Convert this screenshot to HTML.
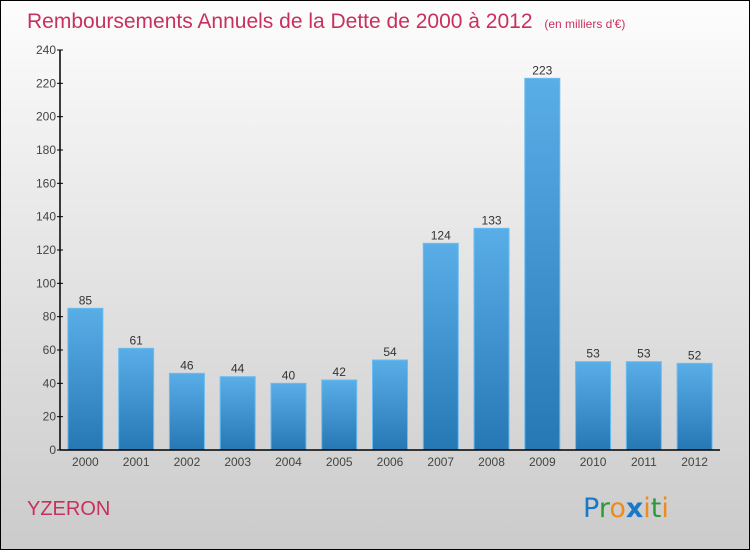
<!DOCTYPE html>
<html><head><meta charset="utf-8"><style>
html,body{margin:0;padding:0}
body{width:750px;height:550px;overflow:hidden;font-family:"Liberation Sans",sans-serif}
#wrap{position:relative;width:748px;height:548px;border:1px solid #000;background:linear-gradient(#fdfdfd,#e8e8e8 40%,#cbcbcb)}
</style></head><body>
<div id="wrap">
<svg id="chart" width="748" height="548" style="position:absolute;left:0;top:0">
<defs><linearGradient id="bg" x1="0" y1="0" x2="0" y2="1"><stop offset="0" stop-color="#5aaee8"/><stop offset="1" stop-color="#2678b4"/></linearGradient></defs>
<text x="26" y="27" font-size="21" fill="#c8305e">Remboursements Annuels de la Dette de 2000 à 2012 <tspan font-size="12" dx="6">(en milliers d'€)</tspan></text>
<g id="yaxis"></g>
<g id="bars"></g>
<g id="xaxis"></g>
<text x="26" y="514" font-size="20" fill="#c8305e">YZERON</text>
<text x="582" y="516" font-size="27" font-family="'DejaVu Sans',sans-serif"><tspan fill="#1a78c8">P</tspan><tspan fill="#2a9a3a">r</tspan><tspan fill="#f08a1a">o</tspan><tspan fill="#1a78c8" font-weight="bold">x</tspan><tspan fill="#f08a1a">i</tspan><tspan fill="#2a9a3a">t</tspan><tspan fill="#f08a1a">i</tspan></text>
</svg>
</div>
<script>
const categories=["2000","2001","2002","2003","2004","2005","2006","2007","2008","2009","2010","2011","2012"];
const values=[85,61,46,44,40,42,54,124,133,223,53,53,52];
const yTicks=[0,20,40,60,80,100,120,140,160,180,200,220,240];
const NS="http://www.w3.org/2000/svg";
const x0=59,x1=719,y0=449,y1=49,yMax=240;
const band=(x1-x0)/categories.length;
const xc=i=>x0+band*(i+0.5);
const ys=v=>y0-(v/yMax)*(y0-y1);
function mk(t,a,p){const e=document.createElementNS(NS,t);for(const k in a)e.setAttribute(k,a[k]);p.appendChild(e);return e;}
const ya=document.getElementById('yaxis'),xa=document.getElementById('xaxis'),bg=document.getElementById('bars');
mk('line',{x1:x0,y1:y1,x2:x0,y2:y0,stroke:'#000','stroke-width':1.5},ya);
yTicks.forEach(t=>{const y=ys(t);mk('line',{x1:x0-3,y1:y,x2:x0+3,y2:y,stroke:'#000'},ya);
const tx=mk('text',{x:x0-4,y:y+4,'font-size':12,'text-anchor':'end',fill:'#444'},ya);tx.textContent=t;

});
categories.forEach((c,i)=>{const cx=xc(i),v=values[i],w=35;
const r=mk('rect',{x:cx-w/2,y:ys(v),width:w,height:y0-ys(v),fill:'url(#bg)',stroke:'#6bbcf0','stroke-width':1},bg);


const vl=mk('text',{x:cx,y:ys(v)-4,'font-size':12,'text-anchor':'middle',fill:'#333'},bg);vl.textContent=v;


const xl=mk('text',{x:cx,y:y0+16,'font-size':12,'text-anchor':'middle',fill:'#444'},xa);xl.textContent=c;

});
mk('line',{x1:x0,y1:y0,x2:x1,y2:y0,stroke:'#000','stroke-width':1.5},xa);
</script>
</body></html>
